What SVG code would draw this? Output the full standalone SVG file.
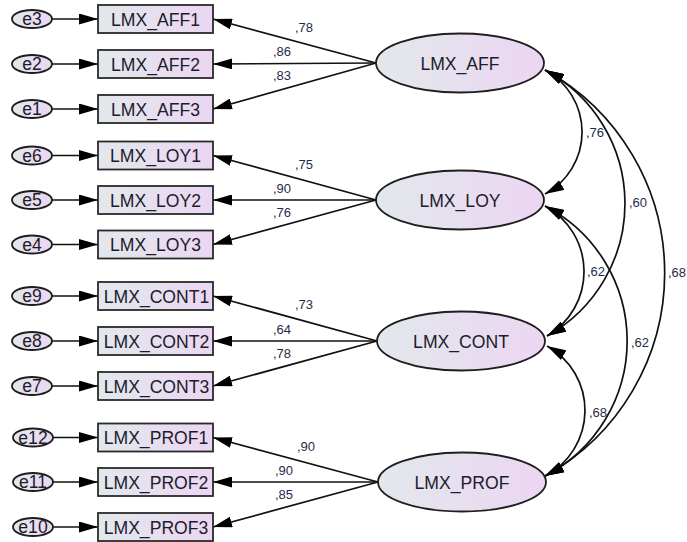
<svg xmlns="http://www.w3.org/2000/svg" width="687" height="542" viewBox="0 0 687 542">
<defs>
<linearGradient id="g" x1="0" y1="0" x2="1" y2="0">
<stop offset="0" stop-color="#e2e8ec"/>
<stop offset="1" stop-color="#ecd6f2"/>
</linearGradient>
<marker id="ah" viewBox="0 0 19 11" refX="19" refY="5.5" markerWidth="19" markerHeight="11" markerUnits="userSpaceOnUse" orient="auto-start-reverse">
<path d="M0,0 L19,5.5 L0,11 Z" fill="#000"/>
</marker>
<style>
.box{fill:url(#g);stroke:#2a2a2a;stroke-width:1.8}
.ell{fill:url(#g);stroke:#1e1e1e;stroke-width:1.8}
.t{font-family:"Liberation Sans",Arial,sans-serif;font-size:17.6px;fill:#1c1c2c;text-anchor:middle}
.et{font-family:"Liberation Sans",Arial,sans-serif;font-size:17.6px;fill:#1c1c2c;text-anchor:middle}
.n{font-family:"Liberation Sans",Arial,sans-serif;font-size:13px;fill:#1f2b4a}
.c path,.c line{stroke:#111;stroke-width:1.7;fill:none}
.a{marker-end:url(#ah)}
.d{marker-start:url(#ah);marker-end:url(#ah)}
</style>
</defs>
<rect width="687" height="542" fill="#fff"/>

<g id="connectors" class="c">
<line class="a" x1="52" y1="19" x2="98" y2="19"/>
<line class="a" x1="52" y1="64" x2="98" y2="64"/>
<line class="a" x1="52" y1="109" x2="98" y2="109"/>
<line class="a" x1="52" y1="155.5" x2="98" y2="155.5"/>
<line class="a" x1="52" y1="200" x2="98" y2="200"/>
<line class="a" x1="52" y1="244.5" x2="98" y2="244.5"/>
<line class="a" x1="52" y1="296" x2="98" y2="296"/>
<line class="a" x1="52" y1="341" x2="98" y2="341"/>
<line class="a" x1="52" y1="386" x2="98" y2="386"/>
<line class="a" x1="53" y1="437.5" x2="98" y2="437.5"/>
<line class="a" x1="53" y1="482" x2="98" y2="482"/>
<line class="a" x1="53" y1="527" x2="98" y2="527"/>
<line class="a" x1="376" y1="63" x2="213" y2="19"/>
<line class="a" x1="376" y1="63" x2="213" y2="64"/>
<line class="a" x1="376" y1="63" x2="213" y2="109"/>
<line class="a" x1="376" y1="200" x2="213" y2="155.5"/>
<line class="a" x1="376" y1="200" x2="213" y2="200"/>
<line class="a" x1="376" y1="200" x2="213" y2="244.5"/>
<line class="a" x1="377" y1="341" x2="213" y2="296"/>
<line class="a" x1="377" y1="341" x2="213" y2="341"/>
<line class="a" x1="377" y1="341" x2="213" y2="386"/>
<line class="a" x1="378" y1="482" x2="213" y2="437.5"/>
<line class="a" x1="378" y1="482" x2="213" y2="482"/>
<line class="a" x1="378" y1="482" x2="213" y2="527"/>
<path class="d" d="M545,70 A70.4,70.4 0 0 1 545,194"/>
<path class="d" d="M545,70 A151.5,151.5 0 0 1 547,336"/>
<path class="d" d="M545,70 A232,232 0 0 1 545,476"/>
<path class="d" d="M545,206 A74.6,74.6 0 0 1 547,336"/>
<path class="d" d="M545,206 A152,152 0 0 1 545,476"/>
<path class="d" d="M547,346 A73.7,73.7 0 0 1 545,476"/>
</g>

<g id="labels">
<text class="n" x="295" y="32">,78</text>
<text class="n" x="273" y="56">,86</text>
<text class="n" x="273" y="80">,83</text>
<text class="n" x="295" y="168.5">,75</text>
<text class="n" x="273" y="193">,90</text>
<text class="n" x="273" y="217">,76</text>
<text class="n" x="295" y="309">,73</text>
<text class="n" x="273" y="334">,64</text>
<text class="n" x="273" y="358">,78</text>
<text class="n" x="297" y="451">,90</text>
<text class="n" x="275" y="475">,90</text>
<text class="n" x="275" y="499">,85</text>
<text class="n" x="586" y="137">,76</text>
<text class="n" x="629" y="207">,60</text>
<text class="n" x="668" y="277">,68</text>
<text class="n" x="587" y="276">,62</text>
<text class="n" x="631" y="347">,62</text>
<text class="n" x="589" y="417">,68</text>
</g>

<g id="e3"><ellipse class="ell" cx="32" cy="19" rx="20" ry="9"/><text class="et" x="32" y="25">e3</text></g>
<g id="e2"><ellipse class="ell" cx="32" cy="64" rx="20" ry="9"/><text class="et" x="32" y="70">e2</text></g>
<g id="e1"><ellipse class="ell" cx="32" cy="109" rx="20" ry="9"/><text class="et" x="32" y="115">e1</text></g>
<g id="e6"><ellipse class="ell" cx="32" cy="155.5" rx="20" ry="9"/><text class="et" x="32" y="161.5">e6</text></g>
<g id="e5"><ellipse class="ell" cx="32" cy="200" rx="20" ry="9"/><text class="et" x="32" y="206">e5</text></g>
<g id="e4"><ellipse class="ell" cx="32" cy="244.5" rx="20" ry="9"/><text class="et" x="32" y="250.5">e4</text></g>
<g id="e9"><ellipse class="ell" cx="32" cy="296" rx="20" ry="9"/><text class="et" x="32" y="302">e9</text></g>
<g id="e8"><ellipse class="ell" cx="32" cy="341" rx="20" ry="9"/><text class="et" x="32" y="347">e8</text></g>
<g id="e7"><ellipse class="ell" cx="32" cy="386" rx="20" ry="9"/><text class="et" x="32" y="392">e7</text></g>
<g id="e12"><ellipse class="ell" cx="33" cy="437.5" rx="20" ry="9"/><text class="et" x="33" y="443.5">e12</text></g>
<g id="e11"><ellipse class="ell" cx="33" cy="482" rx="20" ry="9"/><text class="et" x="33" y="488">e11</text></g>
<g id="e10"><ellipse class="ell" cx="33" cy="527" rx="20" ry="9"/><text class="et" x="33" y="533">e10</text></g>

<g id="LMX_AFF1"><rect class="box" x="98" y="5" width="115" height="28"/><text class="t" x="155.5" y="25.5">LMX_AFF1</text></g>
<g id="LMX_AFF2"><rect class="box" x="98" y="50" width="115" height="28"/><text class="t" x="155.5" y="70.5">LMX_AFF2</text></g>
<g id="LMX_AFF3"><rect class="box" x="98" y="95" width="115" height="28"/><text class="t" x="155.5" y="115.5">LMX_AFF3</text></g>
<g id="LMX_LOY1"><rect class="box" x="98" y="141.5" width="115" height="28"/><text class="t" x="155.5" y="162">LMX_LOY1</text></g>
<g id="LMX_LOY2"><rect class="box" x="98" y="186" width="115" height="28"/><text class="t" x="155.5" y="206.5">LMX_LOY2</text></g>
<g id="LMX_LOY3"><rect class="box" x="98" y="230.5" width="115" height="28"/><text class="t" x="155.5" y="251">LMX_LOY3</text></g>
<g id="LMX_CONT1"><rect class="box" x="98" y="282" width="115" height="28"/><text class="t" x="156.5" y="302.5">LMX_CONT1</text></g>
<g id="LMX_CONT2"><rect class="box" x="98" y="327" width="115" height="28"/><text class="t" x="156.5" y="347.5">LMX_CONT2</text></g>
<g id="LMX_CONT3"><rect class="box" x="98" y="372" width="115" height="28"/><text class="t" x="156.5" y="392.5">LMX_CONT3</text></g>
<g id="LMX_PROF1"><rect class="box" x="98" y="423.5" width="115" height="28"/><text class="t" x="156" y="444">LMX_PROF1</text></g>
<g id="LMX_PROF2"><rect class="box" x="98" y="468" width="115" height="28"/><text class="t" x="156" y="488.5">LMX_PROF2</text></g>
<g id="LMX_PROF3"><rect class="box" x="98" y="513" width="115" height="28"/><text class="t" x="156" y="533.5">LMX_PROF3</text></g>

<g id="LMX_AFF"><ellipse class="ell" cx="460" cy="63" rx="84" ry="29.5"/><text class="t" x="460" y="69.5">LMX_AFF</text></g>
<g id="LMX_LOY"><ellipse class="ell" cx="460" cy="200" rx="84" ry="29.5"/><text class="t" x="460" y="206.5">LMX_LOY</text></g>
<g id="LMX_CONT"><ellipse class="ell" cx="461" cy="341" rx="84" ry="29.5"/><text class="t" x="461" y="347.5">LMX_CONT</text></g>
<g id="LMX_PROF"><ellipse class="ell" cx="462" cy="482" rx="84" ry="29.5"/><text class="t" x="462" y="488.5">LMX_PROF</text></g>
</svg>
